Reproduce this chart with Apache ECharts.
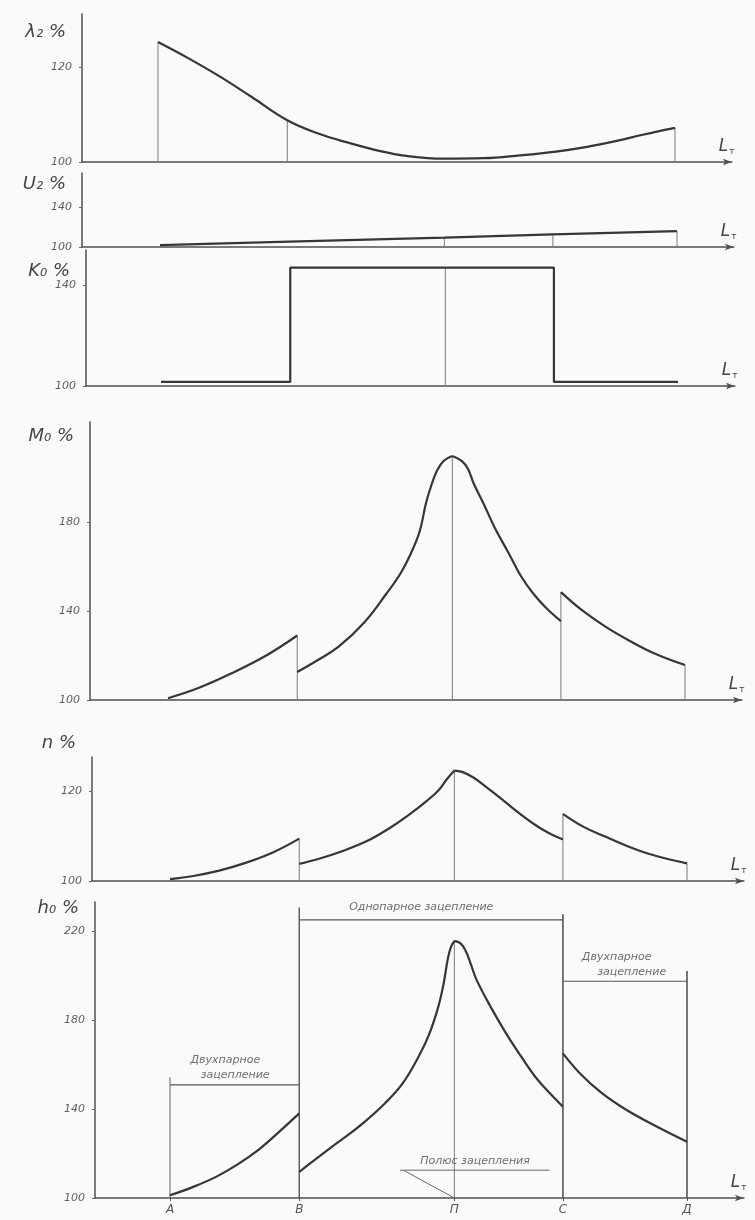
<!DOCTYPE html>
<html>
<head>
<meta charset="utf-8">
<script src="https://cdn.jsdelivr.net/npm/echarts@6/dist/echarts.min.js"></script>
<style>
html,body{margin:0;padding:0;background:#fafaf8;}
#c{width:755px;height:1220px;}
</style>
</head>
<body>
<div id="c"></div>
<script>
// ---------- DATA ----------
const stationL = [0, 25, 55, 76, 100];
const stationLabels = ['А', 'В', 'П', 'С', 'Д'];

// λ2 %
const lambdaL = [0, 6, 12, 18, 25, 31, 37, 43, 48, 55, 63, 70, 77, 83, 88.5, 94, 100];
const lambdaV = [125.3, 121.8, 118, 113.8, 108.8, 106, 104, 102.3, 101.3, 100.7, 100.8, 101.4, 102.2, 103.2, 104.4, 105.8, 107.2];
const lambdaTicks = [100, 120];

// U2 %
const uL = [0, 25, 55, 76, 100];
const uV = [102, 105.5, 109.5, 112.8, 116];
const uTicks = [100, 140];

// K0 %
const kL = [0, 25, 25, 76, 76, 100];
const kV = [101.6, 101.6, 147, 147, 101.6, 101.6];
const kTicks = [100, 140];

// M0 %
const m1L = [0, 6, 12.3, 19, 25];
const m1V = [100.8, 105.5, 112, 120, 129];
const m2L = [25, 29, 33, 38, 42.3, 45, 47, 48.7, 49.9, 51, 52, 53.3, 55];
const m2V = [112.6, 118, 124, 135, 148, 157, 166, 176, 188.5, 197, 203, 207.5, 209.7];
const m3L = [55, 56.8, 58, 59.2, 61, 63.3, 65.9, 68.2, 70.6, 73.3, 76];
const m3V = [209.7, 207.5, 204, 197, 188.5, 177, 166, 156, 148, 141, 135.5];
const m4L = [76, 80, 84.6, 89, 94, 100];
const m4V = [148.5, 140.5, 133, 127, 121, 115.7];
const mTicks = [100, 140, 180];

// n %
const n1L = [0, 4.5, 9.5, 14.3, 20, 25];
const n1V = [100.4, 101.1, 102.3, 103.9, 106.4, 109.4];
const n2L = [25, 29, 33, 38, 42.3, 46, 49.8, 52, 53.5, 55];
const n2V = [103.8, 105, 106.5, 108.8, 111.6, 114.5, 117.9, 120.2, 122.5, 124.5];
const n3L = [55, 56.5, 58.6, 61, 63.8, 67, 70.3, 73, 76];
const n3V = [124.5, 124.2, 123, 121, 118.5, 115.5, 112.7, 110.8, 109.2];
const n4L = [76, 80, 84.3, 89, 93.6, 100];
const n4V = [114.9, 112, 109.8, 107.5, 105.7, 103.9];
const nTicks = [100, 120];

// h0 %
const h1L = [0, 4.5, 8.9, 13, 17.3, 21, 25];
const h1V = [101.2, 105, 109.5, 115, 122, 129.5, 138];
const h2L = [25, 28.5, 32.2, 37, 41.6, 45, 48.1, 50.2, 51.9, 52.9, 53.7, 54.3, 55];
const h2V = [111.7, 118, 124.5, 133, 142.6, 151.5, 163.6, 174, 186, 196, 207, 212.5, 215.5];
const h3L = [55, 56.2, 57.2, 58.2, 59.3, 62, 65, 67.8, 70.6, 73.3, 76];
const h3V = [215.5, 214.4, 211, 205, 198, 186, 174, 164, 154.6, 147.5, 141];
const h4L = [76, 79.5, 83.6, 88, 93, 100];
const h4V = [165, 155.5, 147, 140, 133.5, 125.3];
const hTicks = [100, 140, 180, 220];

// engagement-zone annotations (h0 panel)
const zoneOneLevel = 225, zoneOneTopB = 230.5, zoneOneTopC = 227.5;
const zoneTwoLeftLevel = 150.8, zoneTwoLeftTopA = 154.3;
const zoneTwoRightLevel = 197.4, zoneTwoRightTopD = 202;
const poleUnderlineL = [44.5, 73.4], poleUnderlineV = 112.5;
const poleLeaderL = [45.3, 55], poleLeaderV = [112.3, 100];
const annoText = ['Однопарное зацепление', 'Двухпарное', 'зацепление', 'Двухпарное', 'зацепление', 'Полюс зацепления'];
const annoL = [48.6, 10.7, 12.6, 86.4, 89.3, 59];
const annoV = [230.5, 162, 155, 208, 201.5, 116.5];

// ---------- CHART ----------
const CURVE = '#363636', THIN = '#7a7a7a', AXIS = '#505050';
const panels = [
  {left: 82, top: 14,  height: 148, max: 131.2, ticks: lambdaTicks, name: 'λ₂ %', gap: -18},
  {left: 82, top: 173, height: 74,  max: 175,   ticks: uTicks,      name: 'U₂ %', gap: -11},
  {left: 86, top: 250, height: 136, max: 154,   ticks: kTicks,      name: 'K₀ %', gap: -22},
  {left: 90, top: 422, height: 278, max: 225,   ticks: mTicks,      name: 'M₀ %', gap: -14},
  {left: 92, top: 757, height: 124, max: 127.5, ticks: nTicks,      name: 'n %',  gap: 14},
  {left: 95, top: 902, height: 296, max: 233,   ticks: hTicks,      name: 'h₀ %', gap: -6}
];
const A_PX = [158, 160, 161, 168, 170, 170];

const grids = [], xAxes = [], yAxes = [], series = [];
const PX_PER_UNIT = 5.17;
panels.forEach((p, i) => {
  const xmin = -(A_PX[i] - p.left) / PX_PER_UNIT;
  const xmax = 111;
  const width = (xmax - xmin) * PX_PER_UNIT;
  grids.push({left: p.left, top: p.top, width: width, height: p.height, outerBoundsMode: 'none', containLabel: false});
  const last = i === panels.length - 1;
  xAxes.push({
    gridIndex: i, type: 'value', min: xmin, max: xmax,
    axisLine: {show: true, onZero: false, lineStyle: {color: AXIS, width: 1.5}, symbol: ['none', 'arrow'], symbolSize: [5, 9]},
    splitLine: {show: false},
    axisTick: last ? {show: true, customValues: stationL, length: 3, lineStyle: {color: AXIS}} : {show: false},
    axisLabel: last ? {show: true, customValues: stationL, formatter: v => stationLabels[stationL.indexOf(v)] || '',
      fontStyle: 'italic', fontSize: 12, color: '#555', fontFamily: 'DejaVu Sans', margin: 6} : {show: false},
    name: '{l|L}{s|т}', nameLocation: 'end', nameGap: -13,
    nameTextStyle: {align: 'left', verticalAlign: 'bottom', padding: [0, 0, 6, 0],
      rich: {l: {fontSize: 17, fontStyle: 'italic', color: '#444', fontFamily: 'DejaVu Sans'},
             s: {fontSize: 9, color: '#444', fontFamily: 'DejaVu Sans', padding: [9, 0, 0, 1]}}}
  });
  yAxes.push({
    gridIndex: i, type: 'value', min: 100, max: p.max,
    axisLine: {show: true, onZero: false, lineStyle: {color: AXIS, width: 1.5}},
    splitLine: {show: false},
    axisTick: {show: true, customValues: p.ticks, length: 3, lineStyle: {color: '#666'}},
    axisLabel: {show: true, customValues: p.ticks, fontStyle: 'italic', fontSize: 11, color: '#606060',
      fontFamily: 'DejaVu Sans', margin: 10},
    name: p.name, nameLocation: 'end', nameGap: p.gap,
    nameTextStyle: {align: 'right', verticalAlign: 'middle', padding: [0, 16, 0, 0],
      fontSize: 18, fontStyle: 'italic', color: '#444', fontFamily: 'DejaVu Sans'}
  });
});

function curve(gi, L, V, smooth) {
  series.push({type: 'line', xAxisIndex: gi, yAxisIndex: gi, data: L.map((x, k) => [x, V[k]]),
    symbol: 'none', smooth: smooth === undefined ? 0.4 : smooth,
    lineStyle: {color: CURVE, width: 2.2}, silent: true, animation: false, z: 4});
}
function seg(gi, x0, y0, x1, y1, w, c) {
  series.push({type: 'line', xAxisIndex: gi, yAxisIndex: gi, data: [[x0, y0], [x1, y1]],
    symbol: 'none', lineStyle: {color: c || THIN, width: w || 1}, silent: true, animation: false, z: 3});
}
function vline(gi, x, yTop, w, c) { seg(gi, x, 100, x, yTop, w, c); }
const endV = a => a[a.length - 1];

// λ2
curve(0, lambdaL, lambdaV);
vline(0, lambdaL[0], lambdaV[0]);
vline(0, lambdaL[4], lambdaV[4]);
vline(0, endV(lambdaL), endV(lambdaV));

// U2
curve(1, uL, uV, false);
vline(1, uL[2], uV[2]);
vline(1, uL[3], uV[3]);
vline(1, endV(uL), endV(uV));

// K0
curve(2, kL, kV, false);
vline(2, stationL[2], kV[2]);

// M0
curve(3, m1L, m1V); curve(3, m2L, m2V); curve(3, m3L, m3V); curve(3, m4L, m4V);
vline(3, endV(m1L), endV(m1V));
vline(3, m3L[0], m3V[0]);
vline(3, m4L[0], m4V[0]);
vline(3, endV(m4L), endV(m4V));

// n
curve(4, n1L, n1V); curve(4, n2L, n2V); curve(4, n3L, n3V); curve(4, n4L, n4V);
vline(4, endV(n1L), endV(n1V));
vline(4, n3L[0], n3V[0]);
vline(4, n4L[0], n4V[0]);
vline(4, endV(n4L), endV(n4V));

// h0
curve(5, h1L, h1V); curve(5, h2L, h2V); curve(5, h3L, h3V); curve(5, h4L, h4V);
vline(5, stationL[0], zoneTwoLeftTopA, 1, '#666');
vline(5, stationL[1], zoneOneTopB, 1.4, '#555');
vline(5, stationL[2], h3V[0], 1, THIN);
vline(5, stationL[3], zoneOneTopC, 1.6, '#555');
vline(5, stationL[4], zoneTwoRightTopD, 1.6, '#555');
seg(5, stationL[1], zoneOneLevel, stationL[3], zoneOneLevel, 1.2, '#555');
seg(5, stationL[0], zoneTwoLeftLevel, stationL[1], zoneTwoLeftLevel, 1.2, '#555');
seg(5, stationL[3], zoneTwoRightLevel, stationL[4], zoneTwoRightLevel, 1.2, '#555');
seg(5, poleUnderlineL[0], poleUnderlineV, poleUnderlineL[1], poleUnderlineV, 1, '#666');
seg(5, poleLeaderL[0], poleLeaderV[0], poleLeaderL[1], poleLeaderV[1], 1, '#666');

series.push({type: 'scatter', xAxisIndex: 5, yAxisIndex: 5, symbol: 'circle', symbolSize: 1,
  itemStyle: {color: 'rgba(0,0,0,0)'}, silent: true, animation: false, z: 5,
  data: annoText.map((t, k) => ({value: [annoL[k], annoV[k]], label: {formatter: t}})),
  label: {show: true, position: 'inside', fontSize: 11, fontStyle: 'italic',
    color: '#4a4a4a', fontFamily: 'DejaVu Sans'}});

const chart = echarts.init(document.getElementById('c'), null, {renderer: 'canvas'});
chart.setOption({
  backgroundColor: '#fafaf8',
  animation: false,
  grid: grids, xAxis: xAxes, yAxis: yAxes, series: series
});
</script>
</body>
</html>
